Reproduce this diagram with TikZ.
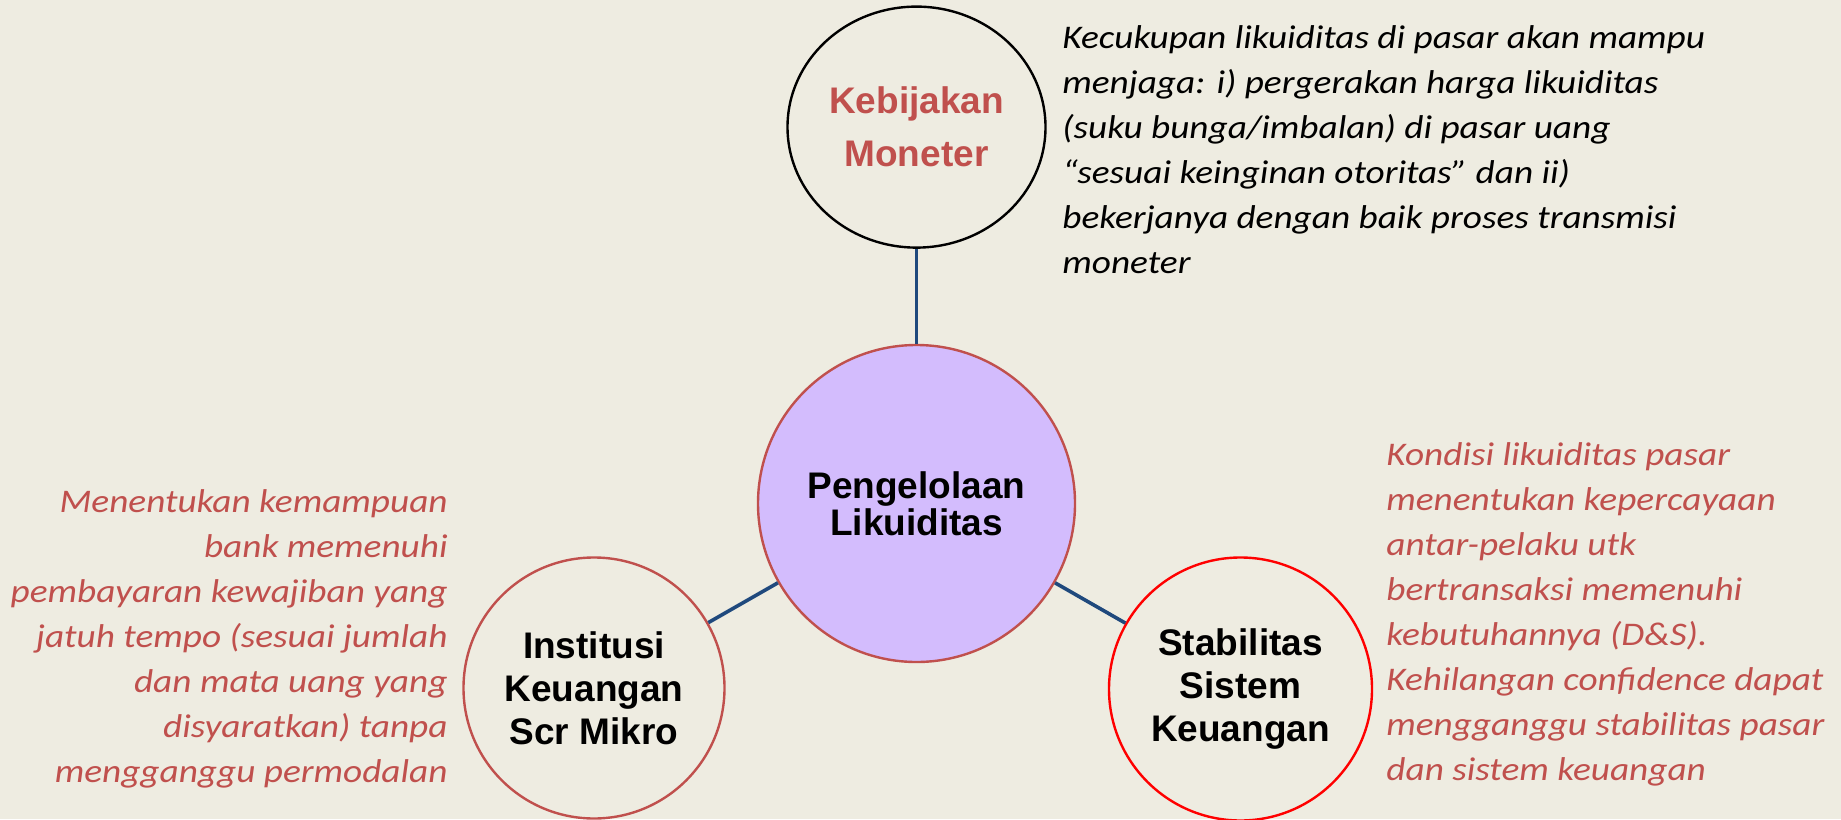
\documentclass[tikz,border=0pt]{standalone}
\usepackage{xcolor}
\usepackage{fontspec}
\usetikzlibrary{shapes.geometric, positioning}
\setmainfont{Liberation Sans}
\newfontfamily\notefont[FakeStretch=1.13]{Carlito}
\definecolor{paperbg}{RGB}{238,236,225}
\definecolor{accentred}{RGB}{192,80,77}
\definecolor{linkblue}{RGB}{31,73,125}
\definecolor{lavender}{RGB}{211,188,253}

\begin{document}
\begin{tikzpicture}[x=0.5pt, y=-0.5pt,
        hub/.style={circle, draw=accentred, fill=lavender, line width=1.2pt, minimum size=158.5pt, inner sep=0pt, align=center, font=\bfseries\fontsize{18.5}{18.5}\selectfont},
        spoke/.style={circle, draw=accentred, line width=1.2pt, minimum size=130.5pt, inner sep=0pt, align=center, font=\bfseries\fontsize{18.5}{21.5}\selectfont},
        note/.style={inner sep=0pt, font=\notefont\itshape\fontsize{16.5}{22.5}\selectfont},
        link/.style={linkblue, line width=1.8pt}
    ]
        \fill[paperbg] (0,0) rectangle (1841,819);
        \useasboundingbox (0,0) rectangle (1841,819);

        \node[hub] (pl) at (916.5,503.5) {Pengelolaan\\Likuiditas};
        \node[ellipse, draw=black, line width=1.2pt, minimum width=129pt, minimum height=120.5pt, inner sep=0pt, align=center, text=accentred, font=\bfseries\fontsize{18.5}{26.5}\selectfont, above=47.5pt of pl] (mon) {Kebijakan\\Moneter};
        \node[spoke] (mikro) at (594,688) {Institusi\\Keuangan\\Scr Mikro};
        \node[spoke, draw=red, minimum size=131.5pt] (ssk) at (1240.5,689) {Stabilitas\\Sistem\\Keuangan};

        \draw[link] (mon) -- (pl);
        \draw[link] (pl) -- (mikro);
        \draw[link] (pl) -- (ssk);

        % keterangan (anchor pada baris terakhir)
        \node[note, align=left, anchor=base west] (monnote) at (1062,273) {Kecukupan likuiditas di pasar akan mampu\\menjaga: i) pergerakan harga likuiditas\\(suku bunga/imbalan) di pasar uang\\“sesuai keinginan otoritas” dan ii)\\bekerjanya dengan baik proses transmisi\\moneter};
        \node[note, text=accentred, align=right, anchor=base east] (mikronote) at (448,782) {Menentukan kemampuan\\bank memenuhi\\pembayaran kewajiban yang\\jatuh tempo (sesuai jumlah\\dan mata uang yang\\disyaratkan) tanpa\\mengganggu permodalan};
        \node[note, text=accentred, align=left, anchor=base west] (ssknote) at (1386,780) {Kondisi likuiditas pasar\\menentukan kepercayaan\\antar-pelaku utk\\bertransaksi memenuhi\\kebutuhannya (D\&S).\\Kehilangan confidence dapat\\mengganggu stabilitas pasar\\dan sistem keuangan};
\end{tikzpicture}
\end{document}
